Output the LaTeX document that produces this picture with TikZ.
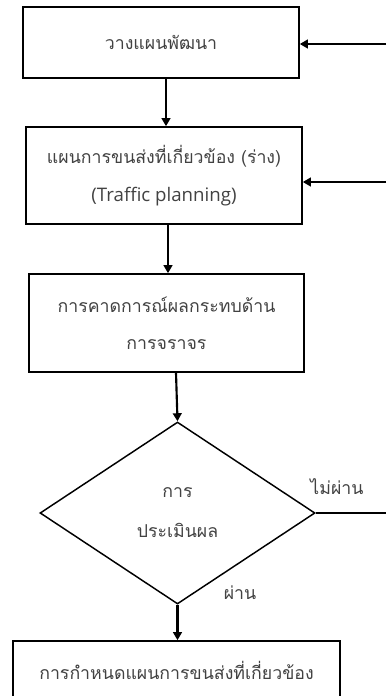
\documentclass[tikz,border=0pt]{standalone}
\usepackage{fontspec}
\newfontfamily\thaifont[Script=Thai]{Loma}
\newfontfamily\latinfont{Open Sans}
\usetikzlibrary{arrows.meta,shapes.geometric,calc}
\definecolor{txtgray}{HTML}{424242}
\tikzset{
  stepbox/.style={draw=black, line width=1.2pt, rectangle, align=center,
    text=txtgray, font=\thaifont\fontsize{13.3}{28}\selectfont, inner sep=0pt},
  decision/.style={draw=black, line width=1.1pt, diamond, align=center,
    text=txtgray, font=\thaifont\fontsize{13.3}{30}\selectfont, inner sep=0pt},
  flow/.style={line width=1.6pt, -{Triangle[length=6pt,width=6.5pt]}},
  plain/.style={line width=1.6pt},
  lbl/.style={text=txtgray, font=\thaifont\fontsize{13.3}{14}\selectfont, inner sep=0pt}
}
\begin{document}
\begin{tikzpicture}[x=0.75pt, y=-0.75pt]
  \clip (0,0) rectangle (386,696);
  \fill[white] (0,0) rectangle (386,696);

  % process boxes
  \node[stepbox, minimum width=207pt, minimum height=53.25pt] (b1) at (161,42.5) {วางแผนพัฒนา};
  \node[stepbox, minimum width=207pt, minimum height=72.75pt] (b2) at (164,175.5)
    {แผนการขนส่งที่เกี่ยวข้อง (ร่าง)\\{\latinfont\fontsize{14}{28}\selectfont(Traffic planning)}};
  \node[stepbox, minimum width=206.25pt, minimum height=73.5pt] (b3) at (166.5,323)
    {การคาดการณ์ผลกระทบด้าน\\การจราจร};
  \node[decision, minimum width=206.25pt, minimum height=136.5pt] (d) at (177.5,513)
    {การ\\ประเมินผล};
  \node[stepbox, minimum width=245.25pt, minimum height=43.5pt] (b5) at (176.5,670)
    {การกำหนดแผนการขนส่งที่เกี่ยวข้อง};

  % feedback entry points at the right edge
  \coordinate (in1) at (386,44);
  \coordinate (in2) at (386,182);
  \coordinate (out) at (386,513);

  % main flow
  \draw[flow] ($(b1.south)+(5,0)$) -- ($(b2.north)+(2,0)$);
  \draw[flow] ($(b2.south)+(4,0)$) -- ($(b3.north)+(1.5,0)$);
  \draw[flow] ($(b3.south)+(9.5,0)$) -- (d.north);
  \draw[flow] (d.south) -- (d.south |- b5.north);

  % returns from the right
  \draw[flow] (in1) -- (in1 -| b1.east);
  \draw[flow] (in2) -- (in2 -| b2.east);
  \draw[plain] (d.east) -- (out);

  % decision labels
  \node[lbl] (fail) at (337,487) {ไม่ผ่าน};
  \node[lbl] (pass) at (240,593) {ผ่าน};
\end{tikzpicture}
\end{document}
